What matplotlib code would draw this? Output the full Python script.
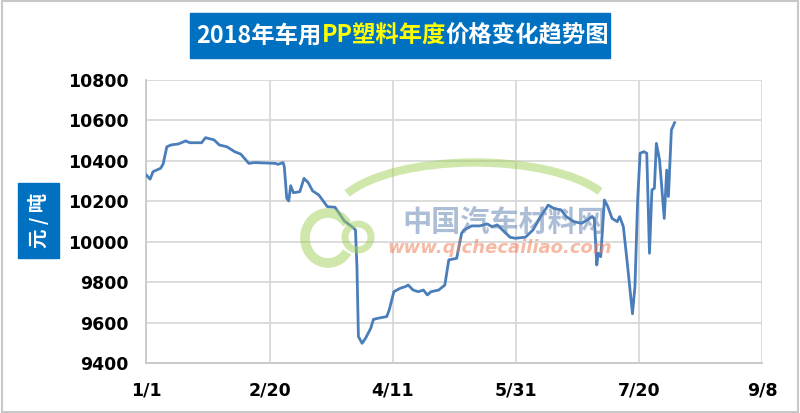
import matplotlib
matplotlib.use('Agg')
import matplotlib.pyplot as plt
from matplotlib.patches import Rectangle, Arc

# 日期（自1月1日起的天数）与价格（元/吨）
days = [0, 1.5, 2.7, 5.8, 6.8, 8.3, 10, 13, 16, 17.6, 22.4, 24, 27.5, 29.6,
        32.7, 35.8, 38.3, 41.6, 44, 52.4, 53.4, 55.5, 56, 57, 57.8, 58.6,
        59.7, 62.3, 64, 65.7, 67.5, 70, 73.5, 76.6, 78.3, 80.4, 83.5, 84.9,
        85.5, 86.1, 87.6, 89, 91.1, 92.2, 93.8, 97.6, 98.6, 100.5, 103.1,
        105.2, 106.3, 108.3, 110.4, 112.5, 114.1, 115.6, 118.7, 121.2, 122.8,
        126, 128, 129, 132.1, 135.3, 138.4, 140.4, 142.5, 144.6, 147.7, 149.8,
        153.9, 157, 160.1, 163.2, 165.3, 168.4, 170.5, 173.6, 176.7, 179.2,
        180.9, 181.9, 182.9, 183.5, 184.5, 186, 187.4, 189.1, 191.2, 192.2,
        193.7, 195.3, 197.4, 198.4, 199.5, 200.5, 202, 203.2, 204.3, 205.3,
        206.3, 207.1, 208.4, 210.3, 211.3, 212, 213.2, 214.5]
prices = [10330, 10310, 10347, 10364, 10385, 10470, 10479, 10484, 10499, 10490,
          10490, 10515, 10504, 10479, 10470, 10446, 10434, 10388, 10392, 10388,
          10383, 10392, 10372, 10215, 10202, 10278, 10243, 10248, 10314, 10293,
          10252, 10232, 10174, 10171, 10141, 10103, 10075, 10059, 9878, 9532,
          9499, 9524, 9573, 9617, 9622, 9631, 9663, 9754, 9771, 9779, 9787,
          9762, 9754, 9762, 9738, 9754, 9762, 9787, 9911, 9919, 10042, 10059,
          10079, 10079, 10089, 10075, 10084, 10059, 10023, 10018, 10023, 10059,
          10125, 10182, 10166, 10158, 10125, 10100, 10092, 10109, 10125, 10116,
          9886, 9944, 9927, 10207, 10174, 10116, 10100, 10125, 10075, 9894,
          9645, 9779, 10207, 10438, 10446, 10438, 9944, 10257, 10265, 10487,
          10405, 10116, 10355, 10224, 10553, 10589]

x_ticks = [0, 50, 100, 150, 200, 250]
x_labels = ['1/1', '2/20', '4/11', '5/31', '7/20', '9/8']
y_ticks = [9400, 9600, 9800, 10000, 10200, 10400, 10600, 10800]

plt.rcParams['font.family'] = ['Noto Sans CJK SC', 'DejaVu Sans']

fig = plt.figure(figsize=(8, 4.13), dpi=100)
ax = fig.add_axes([0.183, 0.1203, 0.7695, 0.686])

W, H = 800.0, 413.0

# 外框
fig.patches.append(Rectangle((0.002, 0.003), 0.996, 0.994, transform=fig.transFigure,
                             fill=False, edgecolor='#c8c8c8', linewidth=1.5))

# 水印（logo）
green = '#a2d05a'
fig.patches.append(Arc((475 / W, 1 - 215 / H), 280 / W, 105 / H, theta1=20, theta2=162,
                       transform=fig.transFigure, color=green, alpha=0.5, linewidth=6))
fig.patches.append(Arc((328 / W, 1 - 238 / H), 46 / W, 50 / H, theta1=55, theta2=305,
                       transform=fig.transFigure, color=green, alpha=0.5, linewidth=7))
fig.patches.append(Arc((358 / W, 1 - 237 / H), 26 / W, 26 / H, theta1=0, theta2=360,
                       transform=fig.transFigure, color=green, alpha=0.5, linewidth=5))
fig.text(504 / W, 1 - 222 / H, '中国汽车材料网', color='#5b7fae', alpha=0.5,
         fontsize=21, fontweight='bold', ha='center', va='center', zorder=0)
fig.text(500 / W, 1 - 248 / H, 'www.qichecailiao.com', color='#f0805a', alpha=0.55,
         fontsize=13, fontweight='bold', style='italic', ha='center', va='center',
         family='DejaVu Sans', zorder=0)

ax.plot(days, prices, color='#4a7ebb', linewidth=2.0, zorder=3)

ax.set_xlim(0, 250)
ax.set_ylim(9400, 10800)
ax.set_xticks(x_ticks)
ax.set_xticklabels(x_labels)
ax.set_yticks(y_ticks)
ax.set_yticklabels([str(v) for v in y_ticks])
ax.grid(True, color='#d9d9d9', linewidth=1.3)
ax.set_axisbelow(True)
ax.set_facecolor('none')
for s in ['top', 'right']:
    ax.spines[s].set_visible(False)
for s in ['left', 'bottom']:
    ax.spines[s].set_color('#c8c8c8')
    ax.spines[s].set_linewidth(1.3)
ax.tick_params(length=0, pad=13)
for lab in ax.get_xticklabels() + ax.get_yticklabels():
    lab.set_fontsize(12.5)
    lab.set_fontweight('bold')
    lab.set_family('DejaVu Sans')

# 标题
fig.patches.append(Rectangle((190 / W, 1 - 58 / H), 420 / W, 45 / H,
                             transform=fig.transFigure, color='#0070c0'))
t1 = fig.text(196 / W, 1 - 35.5 / H, '2018年车用', color='white', fontsize=16.8,
              fontweight='bold', va='center', ha='left')
t2 = fig.text(0, 0, 'PP塑料年度', color='#ffff00', fontsize=16.8, fontweight='bold')
t3 = fig.text(0, 0, '价格变化趋势图', color='white', fontsize=16.8, fontweight='bold')
fig.canvas.draw()
r = fig.canvas.get_renderer()
bb = t1.get_window_extent(r)
t2.set_position((bb.x1 / fig.bbox.width, (bb.y0 + bb.y1) / 2 / fig.bbox.height))
t2.set_va('center')
fig.canvas.draw()
bb = t2.get_window_extent(r)
t3.set_position((bb.x1 / fig.bbox.width, (bb.y0 + bb.y1) / 2 / fig.bbox.height))
t3.set_va('center')

# 纵轴单位
fig.patches.append(Rectangle((18 / W, 1 - 258 / H), 41 / W, 75 / H,
                             transform=fig.transFigure, color='#0070c0'))
fig.text(38.5 / W, 1 - 220.5 / H, '元 / 吨', color='white', fontsize=14,
         fontweight='bold', rotation=90, ha='center', va='center')

fig.savefig('out.png', dpi=100)
